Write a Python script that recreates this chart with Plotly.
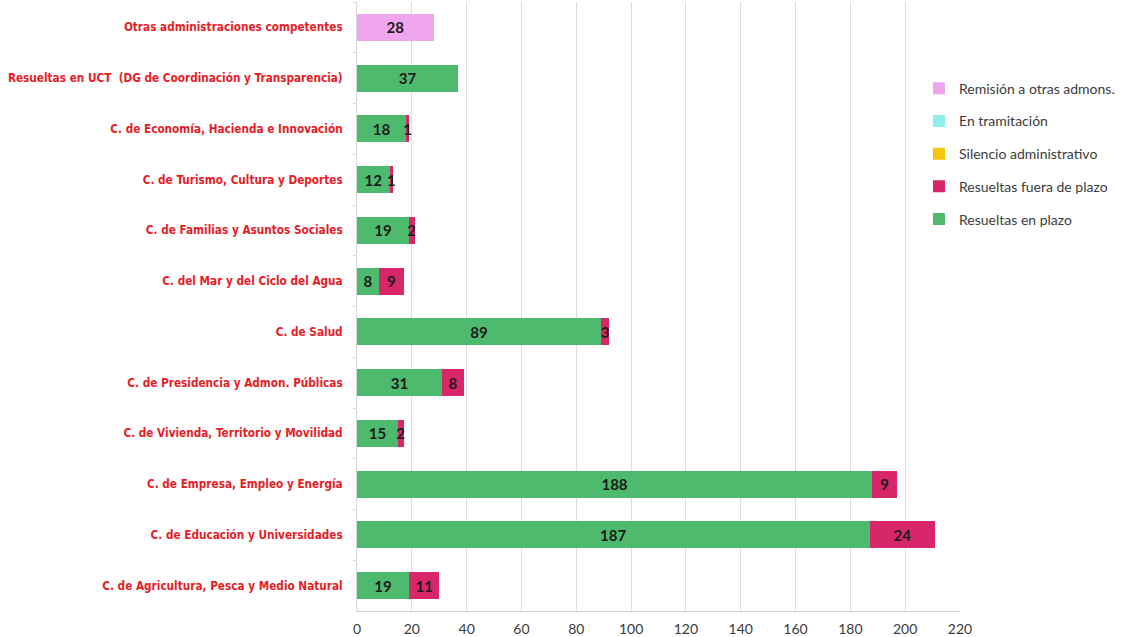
import plotly.graph_objects as go

# Organismos (de arriba abajo)
categorias = [
    "Otras administraciones competentes",
    "Resueltas en UCT\u00a0\u00a0(DG de Coordinación y Transparencia)",
    "C. de Economía, Hacienda e Innovación",
    "C. de Turismo, Cultura y Deportes",
    "C. de Familias y Asuntos Sociales",
    "C. del Mar y del Ciclo del Agua",
    "C. de Salud",
    "C. de Presidencia y Admon. Públicas",
    "C. de Vivienda, Territorio y Movilidad",
    "C. de Empresa, Empleo y Energía",
    "C. de Educación y Universidades",
    "C. de Agricultura, Pesca y Medio Natural",
]

en_plazo = [None, 37, 18, 12, 19, 8, 89, 31, 15, 188, 187, 19]
fuera_plazo = [None, None, 1, 1, 2, 9, 3, 8, 2, 9, 24, 11]
silencio = [0] * 12
tramitacion = [0] * 12
remision = [28] + [None] * 11

x_ticks = [0, 20, 40, 60, 80, 100, 120, 140, 160, 180, 200, 220]

# (nombre, valores, color, posición en la leyenda)
series = [
    ("Resueltas en plazo", en_plazo, "#4dba6e", 5),
    ("Resueltas fuera de plazo", fuera_plazo, "#d8266b", 4),
    ("Silencio administrativo", silencio, "#f5c50a", 3),
    ("En tramitación", tramitacion, "#8eeeee", 2),
    ("Remisión a otras admons.", remision, "#f0a6ef", 1),
]

fig = go.Figure()
for i, (nombre, valores, color, rango) in enumerate(series):
    fig.add_trace(go.Bar(
        name=nombre,
        y=categorias,
        x=valores,
        orientation="h",
        marker=dict(color=color, line=dict(width=0)),
        text=["" if not v else str(v) for v in valores],
        textposition="inside",
        insidetextanchor="middle",
        textangle=0,
        constraintext="none",
        textfont=dict(family="Lato", size=15, color="#1c1c1c", weight="bold"),
        legendgroup=f"g{i}",
        legendrank=rango,
        hoverinfo="skip",
    ))

fig.update_layout(
    barmode="stack",
    bargap=0.47,
    width=1125,
    height=637,
    margin=dict(l=357, r=165, t=2, b=26),
    paper_bgcolor="white",
    plot_bgcolor="white",
    uniformtext=dict(minsize=15, mode="show"),
    showlegend=True,
    legend=dict(
        x=0.932, xanchor="left",
        y=0.884, yanchor="top",
        traceorder="grouped",
        tracegroupgap=11.5,
        font=dict(family="Lato", size=14, color="#3c3c3c"),
        bgcolor="rgba(0,0,0,0)",
        itemclick=False,
    ),
    xaxis=dict(
        range=[0, 220],
        tickvals=x_ticks,
        ticktext=[str(t) for t in x_ticks],
        showgrid=True,
        gridcolor="#dcdcdc",
        gridwidth=1,
        showline=True,
        linecolor="#d0d0d0",
        linewidth=1,
        zeroline=False,
        ticks="",
        ticklabelstandoff=5,
        automargin=False,
        tickfont=dict(family="Lato", size=14, color="#3a3a3a"),
    ),
    yaxis=dict(
        categoryorder="array",
        categoryarray=categorias,
        autorange="reversed",
        automargin=False,
        showline=True,
        linecolor="#d8d8d8",
        ticks="outside",
        tickson="boundaries",
        ticklen=3,
        tickcolor="#d8d8d8",
        ticklabelstandoff=11,
        tickfont=dict(family="DejaVu Sans Condensed, sans-serif",
                      size=11.7, color="#e81c26", weight="bold"),
    ),
)

fig.write_html("out.html")
